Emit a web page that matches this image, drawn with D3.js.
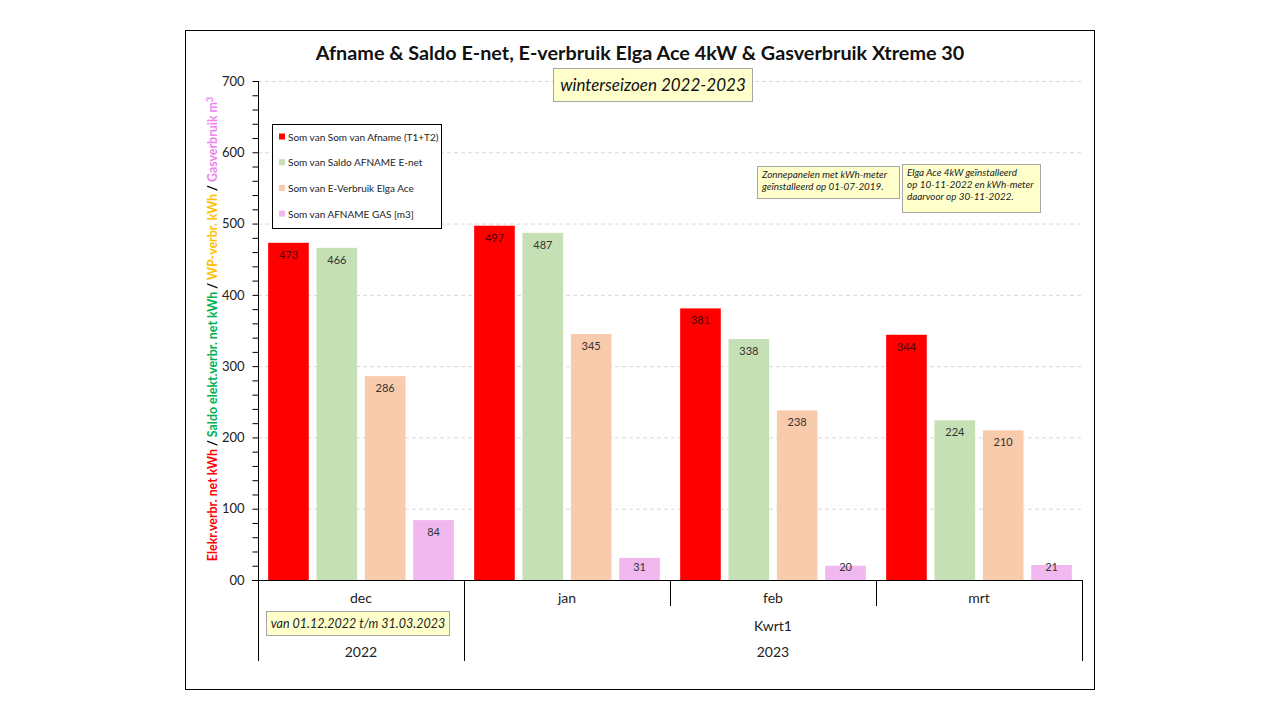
<!DOCTYPE html>
<html><head><meta charset="utf-8">
<script src="https://cdn.jsdelivr.net/npm/d3@7"></script>
<style>body{margin:0;background:#fff;} svg{display:block;font-family:Lato,"Open Sans",sans-serif;}</style>
</head><body>
<svg id="c" width="1280" height="720"></svg>
<script>
const months = ["dec","jan","feb","mrt"];
const years = [{label:"2022", months:["dec"]},{label:"2023", months:["jan","feb","mrt"]}];
const quarters = [{label:"Kwrt1", months:["jan","feb","mrt"]}];
const seriesNames = ["Som van Som van Afname (T1+T2)","Som van Saldo AFNAME E-net","Som van E-Verbruik Elga Ace","Som van AFNAME GAS [m3]"];
const seriesColors = ["#ff0000","#c5e0b4","#f8cbad","#f0b8ee"];
const afname = [473,497,381,344];
const saldo = [466,487,338,224];
const elga = [286,345,238,210];
const gas = [84,31,20,21];
const yTicks = [0,100,200,300,400,500,600,700];

const values = [afname,saldo,elga,gas];
const svg = d3.select("#c");
svg.append("rect").attr("x",185.5).attr("y",30.5).attr("width",909).attr("height",659).attr("fill","#fff").attr("stroke","#000").attr("stroke-width",1);

const x0 = d3.scaleBand().domain(months).range([258,1082]);
const x1 = d3.scaleBand().domain(d3.range(4)).range([0,x0.bandwidth()]).paddingInner(0.16).paddingOuter(0.21);
const y = d3.scaleLinear().domain([0,700]).range([580,81]);

// gridlines
svg.append("g").selectAll("line").data(yTicks.filter(d=>d>0)).join("line")
  .attr("x1",258).attr("x2",1082).attr("y1",d=>y(d)+0.5).attr("y2",d=>y(d)+0.5)
  .attr("stroke","#d9d9d9").attr("stroke-dasharray","4,3");

// y axis
const yAxis = d3.axisLeft(y).tickValues(d3.range(0,701,20)).tickSize(6).tickFormat(d=> d%100===0 ? (d===0?"00":d) : "");
const ga = svg.append("g").attr("transform","translate(258.5,0)").call(yAxis);
ga.select(".domain").attr("stroke","#000").attr("d","M0,81V580");
ga.selectAll(".tick line").attr("stroke","#000");
ga.selectAll(".tick text").attr("font-size",13).attr("fill","#222").attr("x",-14).attr("font-family","Lato,sans-serif");
ga.selectAll(".tick text").text(d=> d%100===0 ? (d===0?"00":String(d)) : "");

// bars
months.forEach((m,i)=>{
  const g = svg.append("g").attr("transform",`translate(${x0(m)},0)`);
  const data = values.map((arr,s)=>({s, v:arr[i]}));
  g.selectAll("rect").data(data).join("rect")
    .attr("x",d=>x1(d.s)).attr("width",x1.bandwidth())
    .attr("y",d=>y(d.v)).attr("height",d=>y(0)-y(d.v))
    .attr("fill",d=>seriesColors[d.s]);
  g.selectAll("text").data(data).join("text")
    .attr("x",d=>x1(d.s)+x1.bandwidth()/2).attr("y",d=>Math.min(y(d.v)+16, 571))
    .attr("text-anchor","middle").attr("font-size",11)
    .attr("fill",d=>d.s===0?"#4a0000":"#333").text(d=>d.v);
});

// category axis
const ax = svg.append("g").attr("stroke","#000").attr("stroke-width",1);
ax.append("line").attr("x1",252).attr("x2",1082).attr("y1",580.5).attr("y2",580.5);
const bounds = months.map(m=>x0(m)).concat([x0.range()[1]]);
bounds.forEach(b=>{
  const isYear = b===258 || b===x0("jan") || b===1082;
  ax.append("line").attr("x1",Math.round(b)+0.5).attr("x2",Math.round(b)+0.5).attr("y1",580).attr("y2",isYear?661:606);
});
const txt = svg.append("g").attr("font-size",14).attr("fill","#222").attr("text-anchor","middle");
months.forEach(m=>txt.append("text").attr("x",x0(m)+x0.bandwidth()/2).attr("y",603).text(m));
quarters.forEach(q=>{
  const a = x0(q.months[0]), b = x0(q.months[q.months.length-1])+x0.bandwidth();
  txt.append("text").attr("x",(a+b)/2).attr("y",631).text(q.label);
});
years.forEach(q=>{
  const a = x0(q.months[0]), b = x0(q.months[q.months.length-1])+x0.bandwidth();
  txt.append("text").attr("x",(a+b)/2).attr("y",657).text(q.label);
});

// date box
svg.append("rect").attr("x",266.5).attr("y",611.5).attr("width",183).attr("height",24).attr("fill","#ffffcc").attr("stroke","#a6a6a6");
svg.append("text").attr("x",358).attr("y",628).attr("text-anchor","middle").attr("font-size",12.5).attr("font-style","italic").attr("fill","#222").text("van 01.12.2022 t/m 31.03.2023");

// title
svg.append("text").attr("x",640).attr("y",60).attr("text-anchor","middle").attr("font-size",19.8).attr("font-weight","bold").attr("fill","#111").text("Afname & Saldo E-net, E-verbruik  Elga Ace 4kW & Gasverbruik  Xtreme 30");
svg.append("rect").attr("x",553.5).attr("y",68.5).attr("width",199).attr("height",33).attr("fill","#ffffcc").attr("stroke","#a6a6a6");
svg.append("text").attr("x",653).attr("y",91).attr("text-anchor","middle").attr("font-size",17).attr("font-style","italic").attr("fill","#111").text("winterseizoen 2022-2023");

// legend
const lg = svg.append("g");
lg.append("rect").attr("x",272.5).attr("y",124.5).attr("width",169).attr("height",104).attr("fill","#fff").attr("stroke","#000");
seriesNames.forEach((n,i)=>{
  const yy = 137 + i*25.7;
  lg.append("rect").attr("x",279).attr("y",yy-3.5).attr("width",6).attr("height",6).attr("fill",seriesColors[i]);
  lg.append("text").attr("x",288).attr("y",yy+3.5).attr("font-size",10).attr("fill","#222").text(n);
});

// annotations
function note(x,yy,w,h,lines){
  svg.append("rect").attr("x",x+0.5).attr("y",yy+0.5).attr("width",w).attr("height",h).attr("fill","#ffffcc").attr("stroke","#a6a6a6");
  lines.forEach((l,i)=>svg.append("text").attr("x",x+5).attr("y",yy+12+i*12).attr("font-size",9.9).attr("font-style","italic").attr("fill","#222").text(l));
}
note(757,166,142,32,["Zonnepanelen met kWh-meter","geïnstalleerd op 01-07-2019."]);
note(902,164,138,48,["Elga Ace 4kW geïnstalleerd","op 10-11-2022 en kWh-meter","daarvoor op 30-11-2022."]);

// y-axis title
const yt = svg.append("text").attr("transform","translate(217,329) rotate(-90)").attr("text-anchor","middle").attr("font-size",12.4).attr("font-weight","bold");
[["Elekr.verbr. net kWh ","#ff0000"],["/ ","#000"],["Saldo  elekt.verbr. net kWh ","#00b050"],["/ ","#000"],["WP-verbr. kWh ","#ffc000"],["/ ","#000"],["Gasverbruik m","#ee82ee"]].forEach(([t,c])=>{
  yt.append("tspan").attr("fill",c).text(t);
});
yt.append("tspan").attr("fill","#ee82ee").attr("dy",-4).attr("font-size",9).text("3");
</script>
</body></html>
